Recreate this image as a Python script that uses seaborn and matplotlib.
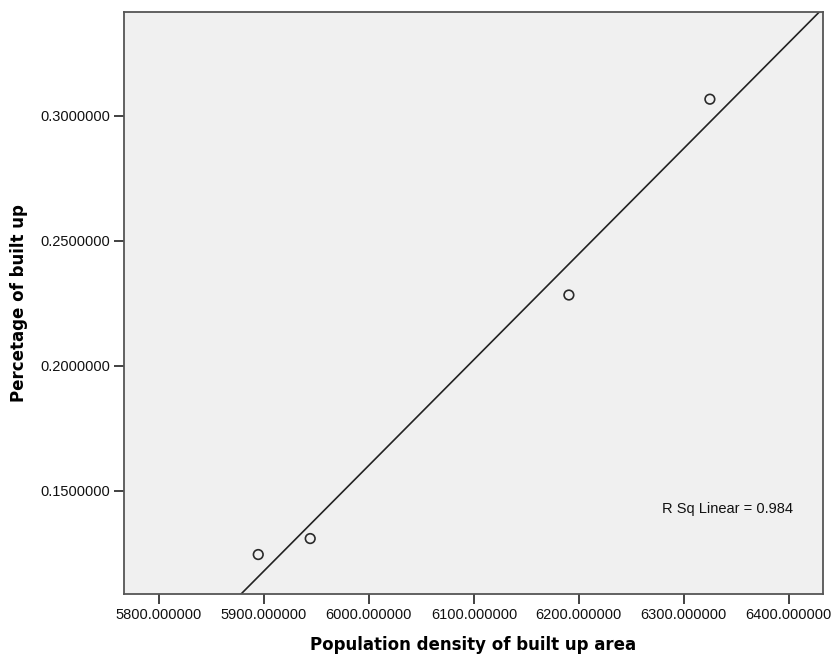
import matplotlib
matplotlib.use("Agg")
import matplotlib.pyplot as plt
import seaborn as sns
import numpy as np
import pandas as pd
from matplotlib.ticker import FormatStrFormatter

# Data
pop_density = [5894.6, 5944.1, 6190.5, 6324.8]
pct_built_up = [0.1244, 0.1308, 0.2283, 0.3067]
x_ticks = [5800, 5900, 6000, 6100, 6200, 6300, 6400]
y_ticks = [0.15, 0.20, 0.25, 0.30]
r2_text = "R Sq Linear = 0.984"

df = pd.DataFrame({"x": pop_density, "y": pct_built_up})

sns.set_theme(style="white")
plt.rcParams["font.family"] = ["Liberation Sans", "DejaVu Sans"]

fig = plt.figure(figsize=(8.32, 6.6), dpi=100)
ax = fig.add_axes([0.149, 0.1, 0.840, 0.8818])
ax.set_facecolor("#f0f0f0")

ax.set_xlim(5766.7, 6432.4)
ax.set_ylim(0.1086, 0.3416)

sns.regplot(data=df, x="x", y="y", ax=ax, ci=None, truncate=False,
            scatter=False, line_kws=dict(color="#222222", lw=1.2))
sns.scatterplot(data=df, x="x", y="y", ax=ax, s=48, marker="o",
                facecolor="none", edgecolor="#2a2a2a", linewidth=1.2, zorder=5)

ax.set_xlim(5766.7, 6432.4)
ax.set_ylim(0.1086, 0.3416)
ax.set_xticks(x_ticks)
ax.set_yticks(y_ticks)
ax.xaxis.set_major_formatter(FormatStrFormatter("%.6f"))
ax.yaxis.set_major_formatter(FormatStrFormatter("%.7f"))
ax.tick_params(axis="both", direction="out", length=7, width=1.3,
               color="#333333", labelsize=10.5, labelcolor="#111111",
               bottom=True, left=True, pad=3)

for sp in ax.spines.values():
    sp.set_color("#555555")
    sp.set_linewidth(1.3)

ax.set_xlabel("Population density of built up area", family="DejaVu Sans",
              fontweight="bold", fontsize=12, labelpad=10, color="black")
ax.set_ylabel("Percetage of built up", family="DejaVu Sans",
              fontweight="bold", fontsize=12, labelpad=9, color="black")

ax.text(0.957, 0.146, r2_text, transform=ax.transAxes, ha="right",
        va="center", fontsize=10.5, color="#111111")

fig.savefig("out.png", dpi=100, facecolor="white")
